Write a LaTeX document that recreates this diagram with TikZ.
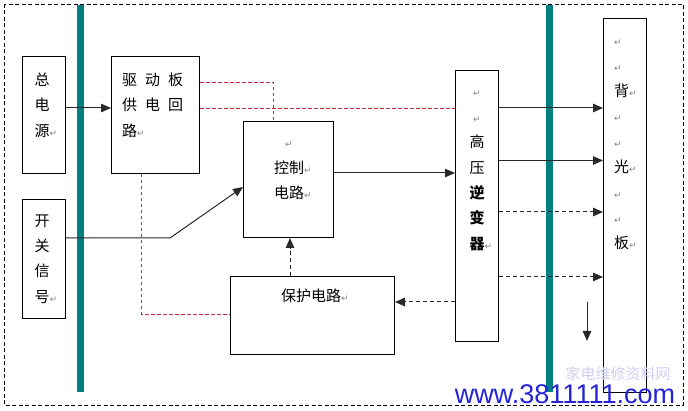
\documentclass[tikz,border=0pt]{standalone}
\usepackage{fontspec}
\setmainfont{Noto Sans CJK SC}
\newfontfamily\symfont{DejaVu Sans}
\newfontfamily\urlfont{Liberation Sans}
\usetikzlibrary{arrows.meta,positioning,calc}
\definecolor{bdTeal} {RGB}{  0,128,128}
\definecolor{bdRed}  {RGB}{200, 45, 60}
\definecolor{bdGrey} {RGB}{ 40, 40, 40}
\definecolor{bdBlue} {RGB}{ 35, 35,215}
\definecolor{bdMark} {RGB}{130,130,130}
\newcommand{\pmark}{{\symfont\fontsize{9}{9}\selectfont\color{bdMark}↵}}
\newcommand{\pmk}{\rlap{\pmark}}
\begin{document}
\begin{tikzpicture}[x=1pt,y=-1pt,
  every node/.style={font=\fontsize{15}{25.4}\selectfont},
  box/.style={draw,line width=1pt,inner sep=0pt,anchor=north west},
  vtxt/.style={align=center,inner sep=0pt},
  bar/.style={fill=bdTeal},
  arr/.style={-{Triangle[length=10pt,width=8.5pt]},line width=1pt,bdGrey},
  darr/.style={arr,dash pattern=on 4pt off 3pt},
  rline/.style={bdRed,line width=0.9pt,dash pattern=on 3.5pt off 2.5pt}
]
\useasboundingbox (0,0) rectangle (688,411);
\draw[line width=0.9pt,dash pattern=on 4pt off 2.5pt] (4,4) rectangle (683,405);
\fill[bar] (77,5) rectangle (84,392);
\fill[bar] (546,5) rectangle (553,392);

\node[box,minimum width=43pt,minimum height=117pt] (zong)    at (22,56)  {};
\node[box,minimum width=88pt,minimum height=117pt] (qudong)  at (111,56) {};
\node[box,minimum width=43pt,minimum height=119pt] (kaiguan) at (22,199) {};
\node[box,minimum width=90pt,minimum height=116pt] (ctl)     at (243,121) {};
\node[box,minimum width=164pt,minimum height=78pt] (prot)    at (230,276) {};
\node[box,minimum width=43pt,minimum height=271pt] (hv)      at (455,70) {};
\node[box,minimum width=43pt,minimum height=374pt] (bl)      at (603,18) {};

\node[vtxt] (zongt) at (42,105) {总\\电\\源\pmk};
\node[vtxt,align=left,anchor=west] (qudongt) at (122,105)
  {驱\hspace{8pt}动\hspace{8pt}板\\供\hspace{8pt}电\hspace{8pt}回\\路\pmk};
\node[vtxt] (kaiguant) at (42,259) {开\\关\\信\\号\pmk};
\node[vtxt] (ctlt) at (289,171) {\pmark\\控制\pmk\\电路\pmk};
\node[vtxt] (prott) at (311,296) {保护电路\pmk};
\node[vtxt] (hvt) at (477,171)
  {\pmark\\\pmark\\高\\压\\\textbf{逆}\\\textbf{变}\\\textbf{器}\pmk};
\node[vtxt,align=left,anchor=west] (blt) at (614,145)
  {\pmark\\\pmark\\背\pmk\\\pmark\\\pmark\\光\pmk\\\pmark\\\pmark\\板\pmk};

\coordinate (yA) at (0,82);
\coordinate (yB) at (0,108);
\coordinate (yC) at (0,160.5);
\coordinate (yD) at (0,173);
\coordinate (yJ) at (0,187);
\coordinate (yE) at (0,212);
\coordinate (yF) at (0,238);
\coordinate (yG) at (0,277);
\coordinate (yH) at (0,302);
\coordinate (yI) at (0,314);
\coordinate (xQ) at (141,0);
\coordinate (xK) at (170,0);
\coordinate (xR) at (273,0);
\coordinate (xP) at (290,0);
\coordinate (dn1) at (587,302);
\coordinate (dn2) at (587,341);

\draw[rline] (qudong.east |- yA) -- (xR |- yA) -- (xR |- ctl.north);
\draw[rline] (qudong.east |- yB) -- (hv.west |- yB);
\draw[rline] (xQ |- qudong.south) -- (xQ |- yI) -- (prot.west |- yI);

\draw[arr] (zong.east |- yB) -- (qudong.west |- yB);
\draw[arr] (kaiguan.east |- yF) -- (xK |- yF) -- (ctl.west |- yJ);
\draw[arr] (ctl.east |- yD) -- (hv.west |- yD);
\draw[darr] (xP |- prot.north) -- (xP |- ctl.south);
\draw[darr] (hv.west |- yH) -- (prot.east |- yH);
\draw[arr] (hv.east |- yB) -- (bl.west |- yB);
\draw[arr] (hv.east |- yC) -- (bl.west |- yC);
\draw[darr] (hv.east |- yE) -- (bl.west |- yE);
\draw[darr] (hv.east |- yG) -- (bl.west |- yG);
\draw[arr] (dn1) -- (dn2);

\node[text=bdBlue!22,font=\fontsize{15}{15}\selectfont] (wmark) at (618,374) {家电维修资料网};
\node[text=bdBlue,inner sep=0pt,font=\urlfont\fontsize{27}{27}\selectfont] (url) at (565,394) {www.3811111.com};
\end{tikzpicture}
\end{document}
